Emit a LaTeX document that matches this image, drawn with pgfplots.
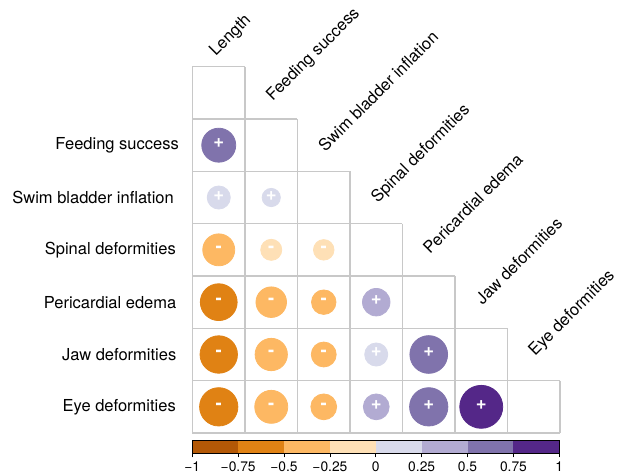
\documentclass[border=0pt]{standalone}
\usepackage{pgfplots}
\pgfplotsset{compat=1.18}
\usepackage{pgfplotstable}
\usepackage{fontspec}
\setmainfont{TeX Gyre Heros}
\definecolor{n4}{HTML}{B35806}
\definecolor{n3}{HTML}{E08214}
\definecolor{n2}{HTML}{FDB863}
\definecolor{n1}{HTML}{FEE0B6}
\definecolor{p1}{HTML}{D8DAEB}
\definecolor{p2}{HTML}{B2ABD2}
\definecolor{p3}{HTML}{8073AC}
\definecolor{p4}{HTML}{542788}
\definecolor{gridgray}{RGB}{200,200,200}

\pgfplotstableread{
x y r
1 2 0.52
1 3 0.24
2 3 0.15
1 4 -0.46
2 4 -0.20
3 4 -0.19
1 5 -0.61
2 5 -0.42
3 5 -0.27
4 5 0.34
1 6 -0.63
2 6 -0.47
3 6 -0.28
4 6 0.24
5 6 0.64
1 7 -0.66
2 7 -0.49
3 7 -0.30
4 7 0.30
5 7 0.66
6 7 0.83
}\corrdata

\newcommand{\lab}{\fontsize{16.5bp}{19bp}\selectfont}
\newcommand{\pickcolor}[1]{%
  \ifcase#1 \def\cc{n4}\or\def\cc{n3}\or\def\cc{n2}\or\def\cc{n1}%
  \or\def\cc{p1}\or\def\cc{p2}\or\def\cc{p3}\or\def\cc{p4}\else\def\cc{p4}\fi}

\begin{document}
\begin{tikzpicture}
\useasboundingbox (-192.5bp,-43bp) rectangle (426.5bp,433bp);
\begin{axis}[
  at={(0,0)}, anchor=south west,
  x=52.5bp, y=52.33bp, y dir=reverse,
  xmin=0.5, xmax=7.5, ymin=0.5, ymax=7.5,
  hide axis, clip=false,
]
% grid (lower triangle incl. diagonal)
\addplot[gridgray, line width=1.3bp] coordinates {(0.5,0.5) (1.5,0.5)};
\addplot[gridgray, line width=1.3bp] coordinates {(0.5,1.5) (2.5,1.5)};
\addplot[gridgray, line width=1.3bp] coordinates {(0.5,2.5) (3.5,2.5)};
\addplot[gridgray, line width=1.3bp] coordinates {(0.5,3.5) (4.5,3.5)};
\addplot[gridgray, line width=1.3bp] coordinates {(0.5,4.5) (5.5,4.5)};
\addplot[gridgray, line width=1.3bp] coordinates {(0.5,5.5) (6.5,5.5)};
\addplot[gridgray, line width=1.3bp] coordinates {(0.5,6.5) (7.5,6.5)};
\addplot[gridgray, line width=1.3bp] coordinates {(0.5,7.5) (7.5,7.5)};
\addplot[gridgray, line width=1.3bp] coordinates {(0.5,0.5) (0.5,7.5)};
\addplot[gridgray, line width=1.3bp] coordinates {(1.5,0.5) (1.5,7.5)};
\addplot[gridgray, line width=1.3bp] coordinates {(2.5,1.5) (2.5,7.5)};
\addplot[gridgray, line width=1.3bp] coordinates {(3.5,2.5) (3.5,7.5)};
\addplot[gridgray, line width=1.3bp] coordinates {(4.5,3.5) (4.5,7.5)};
\addplot[gridgray, line width=1.3bp] coordinates {(5.5,4.5) (5.5,7.5)};
\addplot[gridgray, line width=1.3bp] coordinates {(6.5,5.5) (6.5,7.5)};
\addplot[gridgray, line width=1.3bp] coordinates {(7.5,6.5) (7.5,7.5)};
% circles (area proportional to |r|), colour by 0.25-wide bin
\addplot[scatter, only marks, mark=*,
  point meta=\thisrow{r}, point meta min=-1, point meta max=1,
  scatter/@pre marker code/.code={%
    \pgfmathsetmacro\rr{\pgfplotspointmetatransformed/500-1}%
    \pgfmathsetmacro\rad{23.58*sqrt(abs(\rr))}%
    \pgfmathtruncatemacro\bin{min(7,floor(\pgfplotspointmetatransformed/125))}%
    \pickcolor{\bin}%
    \def\markopts{mark=*, mark size=\rad bp, fill=\cc, draw=\cc, line width=0.8bp}%
    \expandafter\scope\expandafter[\markopts]},
  scatter/@post marker code/.code={\endscope},
] table[x=x, y=y] \corrdata;
% signs
\addplot[only marks, mark=none,
  point meta=\thisrow{r}, point meta min=-1, point meta max=1,
  nodes near coords={\ifdim\pgfplotspointmetatransformed pt<500pt -\else +\fi},
  nodes near coords style={anchor=center, text=white, inner sep=0pt,
    text height=0.5em, text depth=0pt,
    font=\fontsize{18.5bp}{18.5bp}\selectfont\bfseries},
] table[x=x, y=y] \corrdata;
% column labels
\node[rotate=45, anchor=base west, inner sep=0pt, font=\lab] at (axis cs:0.942,0.309) {Length};
\node[rotate=45, anchor=base west, inner sep=0pt, font=\lab] at (axis cs:2.028,1.169) {Feeding success};
\node[rotate=45, anchor=base west, inner sep=0pt, font=\lab] at (axis cs:3.027,2.143) {Swim bladder inflation};
\node[rotate=45, anchor=base west, inner sep=0pt, font=\lab] at (axis cs:4.026,3.118) {Spinal deformities};
\node[rotate=45, anchor=base west, inner sep=0pt, font=\lab] at (axis cs:5.025,4.093) {Pericardial edema};
\node[rotate=45, anchor=base west, inner sep=0pt, font=\lab] at (axis cs:6.024,5.067) {Jaw deformities};
\node[rotate=45, anchor=base west, inner sep=0pt, font=\lab] at (axis cs:7.023,6.042) {Eye deformities};
% row labels
\node[anchor=east, inner sep=0pt, font=\lab, xshift=-13.5bp] at (axis cs:0.5,2) {Feeding success};
\node[anchor=east, inner sep=0pt, font=\lab, xshift=-18.5bp] at (axis cs:0.5,3) {Swim bladder inflation};
\node[anchor=east, inner sep=0pt, font=\lab, xshift=-16.5bp] at (axis cs:0.5,4) {Spinal deformities};
\node[anchor=east, inner sep=0pt, font=\lab, xshift=-16bp] at (axis cs:0.5,5) {Pericardial edema};
\node[anchor=east, inner sep=0pt, font=\lab, xshift=-16bp] at (axis cs:0.5,6) {Jaw deformities};
\node[anchor=east, inner sep=0pt, font=\lab, xshift=-16.5bp] at (axis cs:0.5,7) {Eye deformities};
\end{axis}

% colour bar
\begin{axis}[
  at={(-0.2bp,-7bp)}, anchor=north west,
  width=367bp, height=13.3bp, scale only axis,
  xmin=-1, xmax=1, ymin=0, ymax=1,
  ytick=\empty,
  xtick={-1,-0.75,-0.5,-0.25,0,0.25,0.5,0.75,1},
  xticklabels={−1,−0.75,−0.5,−0.25,0,0.25,0.5,0.75,1},
  xtick pos=bottom, tick align=outside,
  major tick length=4bp,
  axis on top,
  axis line style={black, line width=0.8bp},
  tick style={black, line width=0.8bp},
  xticklabel style={font=\fontsize{13.8bp}{15bp}\selectfont, yshift=-0.5bp},
]
\addplot[fill=n4, draw=none] coordinates {(-1,1) (-0.75,1)} \closedcycle;
\addplot[fill=n3, draw=none] coordinates {(-0.75,1) (-0.5,1)} \closedcycle;
\addplot[fill=n2, draw=none] coordinates {(-0.5,1) (-0.25,1)} \closedcycle;
\addplot[fill=n1, draw=none] coordinates {(-0.25,1) (0,1)} \closedcycle;
\addplot[fill=p1, draw=none] coordinates {(0,1) (0.25,1)} \closedcycle;
\addplot[fill=p2, draw=none] coordinates {(0.25,1) (0.5,1)} \closedcycle;
\addplot[fill=p3, draw=none] coordinates {(0.5,1) (0.75,1)} \closedcycle;
\addplot[fill=p4, draw=none] coordinates {(0.75,1) (1,1)} \closedcycle;
\end{axis}
\end{tikzpicture}
\end{document}
